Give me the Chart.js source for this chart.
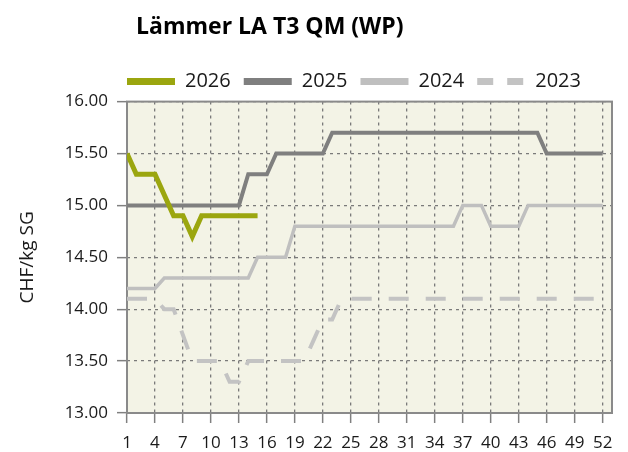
<!DOCTYPE html>
<html>
<head>
<meta charset="utf-8">
<title>Lämmer LA T3 QM (WP)</title>
<script src="https://cdn.jsdelivr.net/npm/chart.js@4.4.1/dist/chart.umd.min.js"></script>
<style>
  html, body { margin: 0; background: #fff; }
  canvas { display: block; }
</style>
</head>
<body>
<canvas id="lammerChart" width="628" height="452"></canvas>
<script>
// Kalenderwochen und Preise CHF/kg SG
const weeks = Array.from({ length: 52 }, (_, i) => i + 1);
const weekTicks = [1, 4, 7, 10, 13, 16, 19, 22, 25, 28, 31, 34, 37, 40, 43, 46, 49, 52];

const price2026 = [15.5, 15.3, 15.3, 15.3, 15.1, 14.9, 14.9, 14.7, 14.9, 14.9, 14.9, 14.9, 14.9, 14.9, 14.9];

const price2025 = [
  15.0, 15.0, 15.0, 15.0, 15.0, 15.0, 15.0, 15.0, 15.0, 15.0, 15.0, 15.0, 15.0,
  15.3, 15.3, 15.3, 15.5, 15.5, 15.5, 15.5, 15.5, 15.5,
  15.7, 15.7, 15.7, 15.7, 15.7, 15.7, 15.7, 15.7, 15.7, 15.7, 15.7, 15.7,
  15.7, 15.7, 15.7, 15.7, 15.7, 15.7, 15.7, 15.7, 15.7, 15.7, 15.7,
  15.5, 15.5, 15.5, 15.5, 15.5, 15.5, 15.5
];

const price2024 = [
  14.2, 14.2, 14.2, 14.2,
  14.3, 14.3, 14.3, 14.3, 14.3, 14.3, 14.3, 14.3, 14.3, 14.3,
  14.5, 14.5, 14.5, 14.5,
  14.8, 14.8, 14.8, 14.8, 14.8, 14.8, 14.8, 14.8, 14.8, 14.8, 14.8, 14.8,
  14.8, 14.8, 14.8, 14.8, 14.8, 14.8,
  15.0, 15.0, 15.0, 14.8, 14.8, 14.8, 14.8,
  15.0, 15.0, 15.0, 15.0, 15.0, 15.0, 15.0, 15.0, 15.0
];

const price2023 = [
  14.1, 14.1, 14.1, 14.1, 14.0, 14.0, 13.75,
  13.5, 13.5, 13.5, 13.5, 13.3, 13.3,
  13.5, 13.5, 13.5, 13.5, 13.5, 13.5, 13.5, 13.7, 13.9, 13.9,
  14.1, 14.1, 14.1, 14.1, 14.1, 14.1, 14.1, 14.1, 14.1, 14.1, 14.1, 14.1,
  14.1, 14.1, 14.1, 14.1, 14.1, 14.1, 14.1, 14.1, 14.1, 14.1, 14.1, 14.1,
  14.1, 14.1, 14.1, 14.1, 14.1
];

const FONT = "'Open Sans', 'DejaVu Sans', sans-serif";
const GRID = '#7a7a7a';

// Hintergrund der Zeichenfläche + Rahmen
const plotFrame = {
  id: 'plotFrame',
  beforeDraw(chart) {
    const { ctx, chartArea: a } = chart;
    ctx.save();
    ctx.fillStyle = '#f3f3e6';
    ctx.fillRect(a.left, a.top, a.right - a.left, a.bottom - a.top);
    ctx.restore();
  },
  beforeDatasetsDraw(chart) {
    const { ctx, chartArea: a } = chart;
    ctx.save();
    ctx.strokeStyle = '#8a8a8a';
    ctx.lineWidth = 2;
    ctx.strokeRect(a.left, a.top, a.right - a.left, a.bottom - a.top);
    ctx.restore();
  },
  // Titel und Legende beginnen links bei der Zeichenfläche, nicht mittig
  afterLayout(chart) {
    const area = chart.chartArea;
    const lg = chart.legend;
    if (lg) {
      const w = lg.right - lg.left;
      lg.left = area.left - lg.options.labels.padding;
      lg.right = lg.left + w;
    }
    const tb = chart.titleBlock;
    if (tb) {
      const w = tb.right - tb.left;
      tb.left = area.left + 9;
      tb.right = tb.left + w;
    }
  }
};

const line = (label, data, color, width, dash) => ({
  label,
  data,
  borderColor: color,
  backgroundColor: color,
  borderWidth: width,
  borderDash: dash || [],
  pointRadius: 0,
  pointHoverRadius: 0,
  tension: 0,
  fill: false
});

new Chart(document.getElementById('lammerChart').getContext('2d'), {
  type: 'line',
  data: {
    labels: weeks,
    datasets: [
      line('2026', price2026, '#9ba60f', 5),
      line('2025', price2025, '#7f7f7f', 4),
      line('2024', price2024, '#bfbfbf', 3.5),
      line('2023', price2023, '#c3c3c3', 4, [20, 17])
    ]
  },
  plugins: [plotFrame],
  options: {
    responsive: false,
    animation: false,
    events: [],
    layout: { padding: { left: 0, right: 16, top: 0, bottom: 0 } },
    plugins: {
      title: {
        display: true,
        text: 'Lämmer LA T3 QM (WP)',
        align: 'start',
        color: '#000',
        font: { family: FONT, size: 23, weight: 'bold' },
        padding: { top: 14, bottom: 17 }
      },
      legend: {
        display: true,
        position: 'top',
        align: 'start',
        labels: {
          usePointStyle: true,
          pointStyle: 'line',
          pointStyleWidth: 48,
          boxHeight: 20,
          padding: 13,
          color: '#1a1a1a',
          font: { family: FONT, size: 20 },
          generateLabels(chart) {
            const items = Chart.defaults.plugins.legend.labels.generateLabels(chart);
            items.forEach((it) => {
              const ds = chart.data.datasets[it.datasetIndex];
              it.lineWidth = 7;
              it.lineDash = ds.borderDash && ds.borderDash.length ? [16, 14] : [];
            });
            return items;
          }
        }
      },
      tooltip: { enabled: false }
    },
    scales: {
      x: {
        type: 'linear',
        min: 1,
        max: 53,
        afterBuildTicks(scale) {
          scale.ticks = weekTicks.map((v) => ({ value: v }));
        },
        afterFit(scale) {
          scale.height = 39;
        },
        ticks: {
          autoSkip: false,
          maxRotation: 0,
          padding: 10,
          color: '#1a1a1a',
          font: { family: FONT, size: 17 },
          callback: (v) => String(v)
        },
        grid: {
          color: GRID,
          lineWidth: 1.3,
          tickLength: 10,
          tickColor: '#808080',
          tickWidth: 1.5
        },
        border: { display: false, dash: [3, 4] }
      },
      y: {
        min: 13,
        max: 16,
        afterFit(scale) {
          scale.width = 127;
        },
        ticks: {
          stepSize: 0.5,
          padding: 9,
          color: '#1a1a1a',
          font: { family: FONT, size: 17 },
          callback: (v) => Number(v).toFixed(2)
        },
        title: {
          display: true,
          text: 'CHF/kg SG',
          color: '#1a1a1a',
          font: { family: FONT, size: 19 },
          padding: { top: 16, bottom: 0 }
        },
        grid: {
          color: GRID,
          lineWidth: 1.3,
          tickLength: 10,
          tickColor: '#808080',
          tickWidth: 1.5
        },
        border: { display: false, dash: [3, 4] }
      }
    }
  }
});
</script>
</body>
</html>
